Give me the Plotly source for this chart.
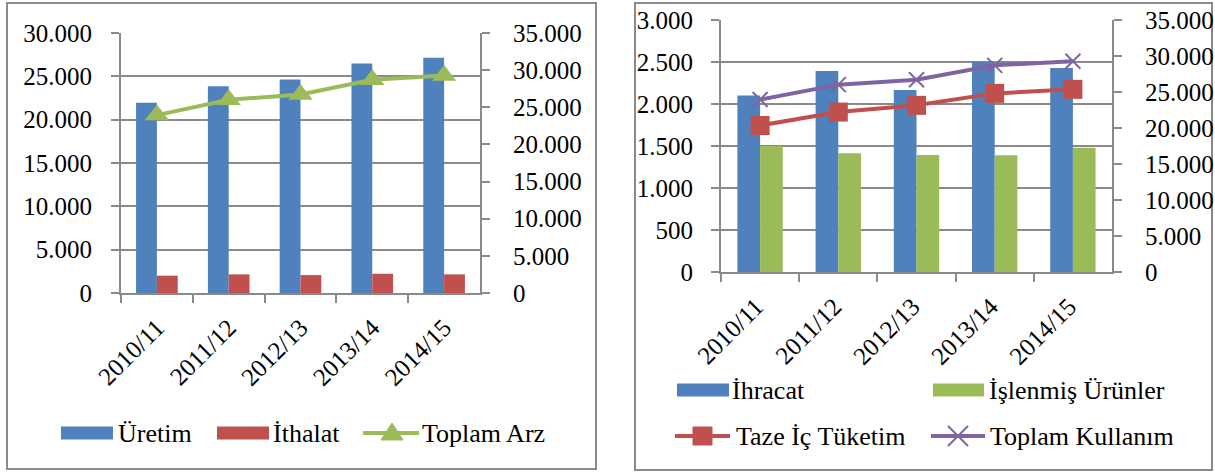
import plotly.graph_objects as go

W, H = 1215, 472
categories = ["2010/11", "2011/12", "2012/13", "2013/14", "2014/15"]

# Left chart (supply)
uretim = [21950, 23870, 24640, 26480, 27130]
ithalat = [2000, 2150, 2070, 2220, 2150]
toplam_arz = [23950, 26020, 26710, 28700, 29280]

# Right chart (use)
ihracat = [2100, 2392, 2167, 2503, 2428]
islenmis = [1500, 1413, 1394, 1390, 1480]
taze_ic = [20350, 22215, 23149, 24807, 25372]
toplam_kullanim = [23950, 26020, 26710, 28700, 29280]

BLUE, RED, GREEN, PURPLE = "#4F81BD", "#C0504D", "#9BBB59", "#8064A2"
GRID = "#8A8A8A"
FONT = "Liberation Serif"
FS = 25
FSL = 26

def px(x):
    return x / W

def py(y):
    return 1 - y / H

fig = go.Figure()
fig.add_trace(go.Bar(x=categories, y=uretim, name="Üretim", marker_color=BLUE,
                     marker_line_width=0, xaxis="x", yaxis="y", showlegend=False))
fig.add_trace(go.Bar(x=categories, y=ithalat, name="İthalat", marker_color=RED,
                     marker_line_width=0, xaxis="x", yaxis="y", showlegend=False))
fig.add_trace(go.Scatter(x=categories, y=toplam_arz, name="Toplam Arz", mode="lines+markers",
                         line=dict(color=GREEN, width=4),
                         marker=dict(symbol="triangle-up", size=21, color=GREEN),
                         xaxis="x", yaxis="y2", showlegend=False))

fig.add_trace(go.Bar(x=categories, y=ihracat, name="İhracat", marker_color=BLUE,
                     marker_line_width=0, xaxis="x2", yaxis="y3", showlegend=False))
fig.add_trace(go.Bar(x=categories, y=islenmis, name="İşlenmiş Ürünler", marker_color=GREEN,
                     marker_line_width=0, xaxis="x2", yaxis="y3", showlegend=False))
fig.add_trace(go.Scatter(x=categories, y=taze_ic, name="Taze İç Tüketim", mode="lines+markers",
                         line=dict(color=RED, width=4),
                         marker=dict(symbol="square", size=19, color=RED),
                         xaxis="x2", yaxis="y4", showlegend=False))
fig.add_trace(go.Scatter(x=categories, y=toplam_kullanim, name="Toplam Kullanım", mode="lines+markers",
                         line=dict(color=PURPLE, width=4),
                         marker=dict(symbol="x-thin", size=15, color=PURPLE,
                                     line=dict(color=PURPLE, width=2)),
                         xaxis="x2", yaxis="y4", showlegend=False))

tickfont = dict(family=FONT, size=FS, color="black")

xcommon = dict(type="category", showline=True, linecolor=GRID, linewidth=2,
               ticks="outside", tickson="boundaries", ticklen=8, tickcolor=GRID, tickwidth=2,
               tickangle=-45, tickfont=tickfont, showgrid=False, zeroline=False,
               ticklabelstandoff=8, fixedrange=True, automargin=False)
ycommon = dict(showline=True, linecolor=GRID, linewidth=2, ticks="outside", ticklen=8,
               tickcolor=GRID, tickwidth=2, tickfont=tickfont, tickformat=",d",
               zeroline=False, fixedrange=True, automargin=False)

fig.update_layout(
    template="none",
    width=W, height=H, margin=dict(l=0, r=0, t=0, b=0, pad=0),
    paper_bgcolor="white", plot_bgcolor="white",
    font=dict(family=FONT, size=FS, color="black"),
    separators=",.",
    barmode="group", bargap=0.42, bargroupgap=0,
    showlegend=False,
    xaxis=dict(domain=[px(121), px(480)], anchor="y", **xcommon),
    yaxis=dict(domain=[py(293), py(33)], anchor="x", range=[0, 30000], dtick=5000,
               showgrid=True, gridcolor=GRID, gridwidth=2, ticklabelstandoff=14, **ycommon),
    yaxis2=dict(overlaying="y", side="right", anchor="x", range=[0, 35000], dtick=5000,
                showgrid=False, ticklabelstandoff=18, **ycommon),
    xaxis2=dict(domain=[px(721), px(1112)], anchor="y3", ticklabelshift=-4, **xcommon),
    yaxis3=dict(domain=[py(272), py(20)], anchor="x2", range=[0, 3000], dtick=500,
                showgrid=True, gridcolor=GRID, gridwidth=2, ticklabelstandoff=13, **ycommon),
    yaxis4=dict(overlaying="y3", side="right", anchor="x2", range=[0, 35000], dtick=5000,
                showgrid=False, ticklabelstandoff=18, **ycommon),
)

shapes = []
annotations = []
# Panel frames
for x0, x1, y0, y1 in [(7, 596, 3, 469), (635, 1212, 3, 470)]:
    shapes.append(dict(type="rect", xref="paper", yref="paper",
                       x0=px(x0), x1=px(x1), y0=py(y1), y1=py(y0),
                       line=dict(color=GRID, width=2), fillcolor="rgba(0,0,0,0)", layer="below"))

def leg_rect(x0, x1, yc, color):
    shapes.append(dict(type="rect", xref="paper", yref="paper",
                       x0=px(x0), x1=px(x1), y0=py(yc + 6.5), y1=py(yc - 6.5),
                       line=dict(width=0), fillcolor=color))

def leg_line(x0, x1, yc, color):
    shapes.append(dict(type="line", xref="paper", yref="paper",
                       x0=px(x0), x1=px(x1), y0=py(yc), y1=py(yc),
                       line=dict(color=color, width=4)))

def leg_text(x, yc, text):
    annotations.append(dict(xref="paper", yref="paper", x=px(x), y=py(yc), text=text,
                            showarrow=False, xanchor="left", yanchor="middle",
                            font=dict(family=FONT, size=FSL, color="black")))

# Left legend
yl = 433
leg_rect(61, 113, yl, BLUE); leg_text(116, yl, "Üretim")
leg_rect(217, 269, yl, RED); leg_text(271, yl, "İthalat")
leg_line(363, 419, yl, GREEN)
cx = 392
shapes.append(dict(type="path", xref="paper", yref="paper",
                   path=f"M {px(cx-11)} {py(yl+7)} L {px(cx+11)} {py(yl+7)} L {px(cx)} {py(yl-10)} Z",
                   fillcolor=GREEN, line=dict(color=GREEN, width=1)))
leg_text(420, yl, "Toplam Arz")

# Right legend
yr1, yr2 = 390, 436
leg_rect(677, 729, yr1, BLUE); leg_text(730, yr1, "İhracat")
leg_rect(933, 984, yr1, GREEN); leg_text(987, yr1, "İşlenmiş Ürünler")
leg_line(675, 730, yr2, RED)
shapes.append(dict(type="rect", xref="paper", yref="paper",
                   x0=px(693), x1=px(712), y0=py(yr2 + 9), y1=py(yr2 - 9),
                   fillcolor=RED, line=dict(color=RED, width=1)))
leg_text(734, yr2, "Taze İç Tüketim")
leg_line(931, 985, yr2, PURPLE)
for dx in (-1, 1):
    shapes.append(dict(type="line", xref="paper", yref="paper",
                       x0=px(958 - 10), x1=px(958 + 10), y0=py(yr2 - 10 * dx), y1=py(yr2 + 10 * dx),
                       line=dict(color=PURPLE, width=2)))
leg_text(988, yr2, "Toplam Kullanım")

fig.update_layout(shapes=shapes, annotations=annotations)

fig.write_html("out.html", config={"staticPlot": True, "displayModeBar": False},
               post_script="document.body.style.margin='0';document.body.style.overflow='hidden';")
